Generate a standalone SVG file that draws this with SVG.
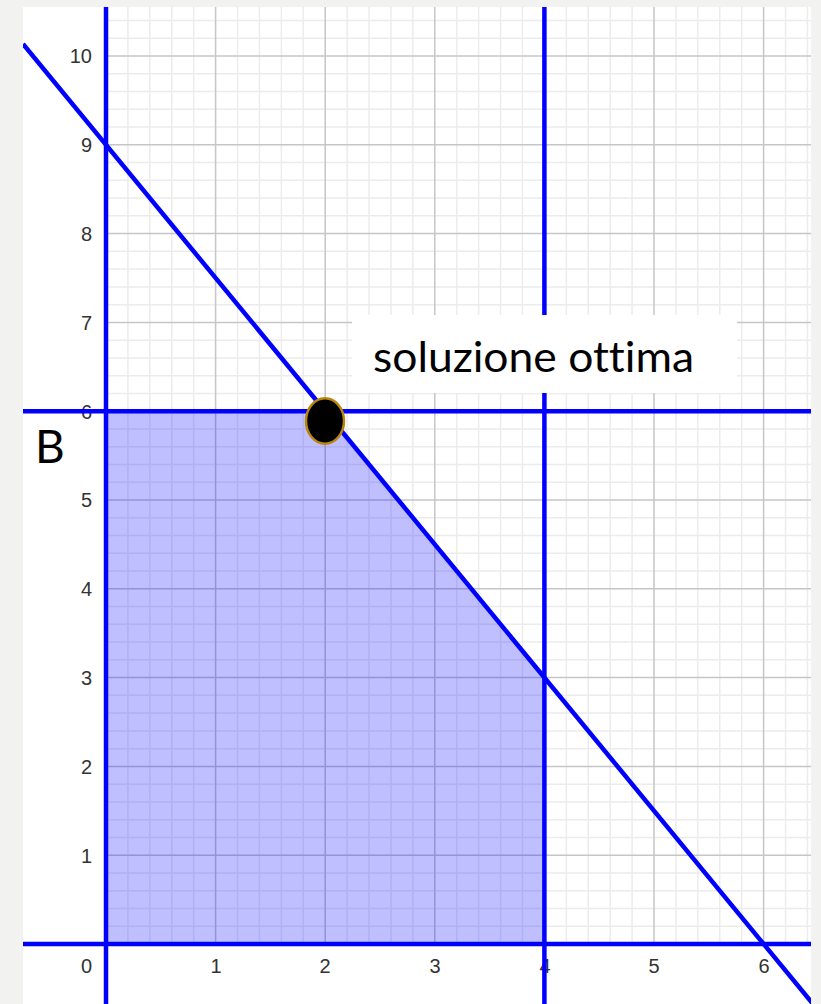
<svg xmlns="http://www.w3.org/2000/svg" width="821" height="1004" viewBox="0 0 821 1004">
<defs>
<style>
.minor{stroke:#ececec;stroke-width:1.5;fill:none}
.major{stroke:#c6c6c6;stroke-width:1.5;fill:none}
.blue{stroke:#0000ff;stroke-width:4.5;fill:none}
.num{font-family:"Liberation Sans",Arial,sans-serif;font-size:20px;fill:#333}
.ny{text-anchor:end}
.nx{text-anchor:middle}
.lbl{font-family:Lato,"Open Sans",sans-serif;fill:#000;font-variant-ligatures:none;font-feature-settings:"liga" 0}
</style>
<clipPath id="plot"><rect x="23" y="7" width="788" height="997"/></clipPath>
</defs>
<rect width="821" height="1004" fill="#f2f2f0"/>
<rect x="23" y="7" width="788" height="997" fill="#ffffff"/>
<g id="grid" clip-path="url(#plot)">
<path class="minor" d="M127.92 7V944M149.84 7V944M171.76 7V944M193.68 7V944M237.52 7V944M259.44 7V944M281.36 7V944M303.28 7V944M347.12 7V944M369.04 7V944M390.96 7V944M412.88 7V944M456.72 7V944M478.64 7V944M500.56 7V944M522.48 7V944M566.32 7V944M588.24 7V944M610.16 7V944M632.08 7V944M675.92 7V944M697.84 7V944M719.76 7V944M741.68 7V944M785.52 7V944M807.44 7V944
M106 926.24H811M106 908.48H811M106 890.72H811M106 872.96H811M106 837.44H811M106 819.68H811M106 801.92H811M106 784.16H811M106 748.64H811M106 730.88H811M106 713.12H811M106 695.36H811M106 659.84H811M106 642.08H811M106 624.32H811M106 606.56H811M106 571.04H811M106 553.28H811M106 535.52H811M106 517.76H811M106 482.24H811M106 464.48H811M106 446.72H811M106 428.96H811M106 393.44H811M106 375.68H811M106 357.92H811M106 340.16H811M106 304.64H811M106 286.88H811M106 269.12H811M106 251.36H811M106 215.84H811M106 198.08H811M106 180.32H811M106 162.56H811M106 127.04H811M106 109.28H811M106 91.52H811M106 73.76H811M106 38.24H811M106 20.48H811"/>
<path class="major" d="M215.6 7V944M325.2 7V944M434.8 7V944M654 7V944M763.6 7V944
M106 855.2H811M106 766.4H811M106 677.6H811M106 588.8H811M106 500H811M106 322.4H811M106 233.6H811M106 144.8H811M106 56H811"/>
</g>
<g id="feasible-region">
<polygon points="106,944 106,411.2 325.2,411.2 544.4,677.6 544.4,944" fill="#0000ff" fill-opacity="0.25"/>
</g>
<g id="axis-labels">
<text class="num ny" x="92" y="973">0</text>
<text class="num nx" x="216" y="973">1</text>
<text class="num nx" x="325" y="973">2</text>
<text class="num nx" x="435" y="973">3</text>
<text class="num nx" x="545" y="973">4</text>
<text class="num nx" x="654" y="973">5</text>
<text class="num nx" x="764" y="973">6</text>
<text class="num ny" x="92" y="862.5">1</text>
<text class="num ny" x="92" y="773.7">2</text>
<text class="num ny" x="92" y="684.9">3</text>
<text class="num ny" x="92" y="596.1">4</text>
<text class="num ny" x="92" y="507.3">5</text>
<text class="num ny" x="92" y="418.5">6</text>
<text class="num ny" x="92" y="329.7">7</text>
<text class="num ny" x="92" y="240.9">8</text>
<text class="num ny" x="92" y="152.1">9</text>
<text class="num ny" x="92" y="63.3">10</text>
</g>
<g id="connectors" clip-path="url(#plot)">
<line class="blue" x1="106" y1="0" x2="106" y2="1004"/>
<line class="blue" x1="544.4" y1="0" x2="544.4" y2="1004"/>
<line class="blue" x1="23" y1="411.2" x2="811" y2="411.2"/>
<line class="blue" x1="23" y1="944" x2="811" y2="944"/>
<line class="blue" x1="23" y1="43.9" x2="825" y2="1018.6"/>
</g>
<g id="label-optimum">
<rect x="352" y="315" width="385" height="78" fill="#ffffff"/>
<text class="lbl" x="373" y="372" font-size="42" textLength="321" lengthAdjust="spacingAndGlyphs">soluzione ottima</text>
</g>
<g id="point-optimum">
<ellipse cx="325" cy="421" rx="19" ry="22.7" fill="#000000" stroke="#b8860b" stroke-width="2.5"/>
</g>
<g id="label-B">
<text class="lbl" x="35" y="463" font-size="46">B</text>
</g>
</svg>
